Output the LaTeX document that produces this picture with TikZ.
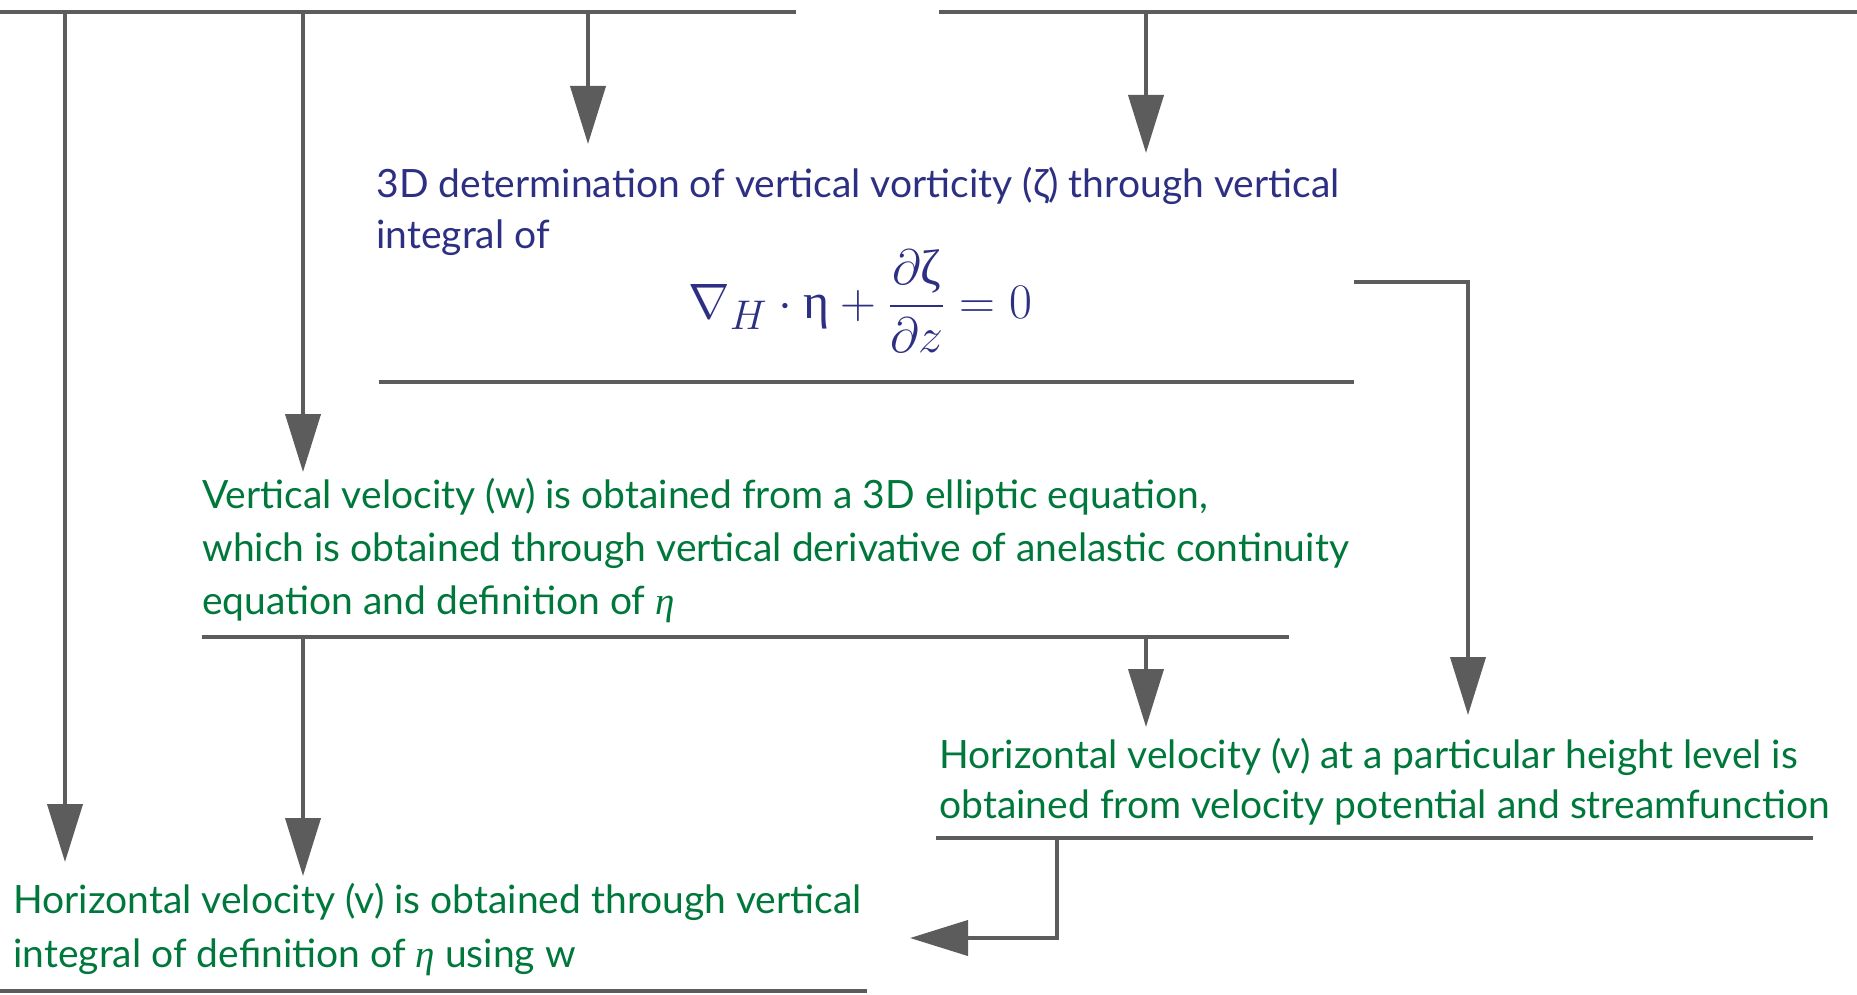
\documentclass[tikz,border=0pt]{standalone}
\usepackage{amsmath}
\usepackage[no-math]{fontspec}
\setmainfont{Lato}
\newfontfamily\greekserif{Liberation Serif}
\usetikzlibrary{arrows.meta}

\definecolor{navyink}{RGB}{45,48,130}
\definecolor{greenink}{RGB}{0,120,60}
\definecolor{wiregray}{RGB}{92,92,92}

\tikzset{
  bar/.style={line width=2pt, wiregray},
  flow/.style={line width=2pt, wiregray, -{Triangle[length=29pt,width=17.5pt]}},
  note/.style={inner sep=0pt, anchor=base west, align=left, font={\fontsize{19.5}{25}\selectfont}},
}

\begin{document}
\begin{tikzpicture}[x=0.5pt, y=-0.5pt]
  \useasboundingbox (0,0) rectangle (1857,995);

  % Vorticity step (base = last line)
  \node[note, text=navyink] (vort) at (376,248)
    {3D determination of vertical vorticity (ζ) through vertical\\integral of};
  \node[inner sep=0pt, anchor=base west, text=navyink, font={\fontsize{24.88}{30}\selectfont}] (eq) at (688,318)
    {$\nabla_{H}\cdot\text{\greekserif η}+\dfrac{\partial\text{\greekserif ζ}}{\partial z}=0$};

  % Vertical velocity step
  \node[note, text=greenink, font={\fontsize{19.5}{26.5}\selectfont}] (wvel) at (202,614)
    {Vertical velocity (w) is obtained from a 3D elliptic equation,\\
     which is obtained through vertical derivative of anelastic continuity\\
     equation and definition of {\greekserif\itshape η}};

  % Horizontal velocity at one level
  \node[note, text=greenink] (vlevel) at (939,818)
    {Horizontal velocity (v) at a particular height level is\\
     obtained from velocity potential and streamfunction};

  % Horizontal velocity from integral
  \node[note, text=greenink, font={\fontsize{19.5}{27}\selectfont}] (vint) at (13,967)
    {Horizontal velocity (v) is obtained through vertical\\
     integral of definition of {\greekserif\itshape η} using w};

  % Bars
  \coordinate (tl0) at (0,12);     \coordinate (tl1) at (796,12);
  \coordinate (tr0) at (939,12);   \coordinate (tr1) at (1857,12);
  \coordinate (u1a) at (379,382);  \coordinate (u1b) at (1354,382);
  \coordinate (u2a) at (202,637);  \coordinate (u2b) at (1289,637);
  \coordinate (u3a) at (936,838);  \coordinate (u3b) at (1813,838);
  \coordinate (u4a) at (0,991);    \coordinate (u4b) at (867,991);
  \draw[bar] (tl0) -- (tl1);
  \draw[bar] (tr0) -- (tr1);
  \draw[bar] (u1a) -- (u1b);
  \draw[bar] (u2a) -- (u2b);
  \draw[bar] (u3a) -- (u3b);
  \draw[bar] (u4a) -- (u4b);

  % Arrow ends
  \coordinate (inA) at (65,862);
  \coordinate (inB) at (303,472);
  \coordinate (inC) at (588,144);
  \coordinate (inD) at (1146,153);
  \coordinate (inE) at (303,876);
  \coordinate (inF) at (1146,727);
  \coordinate (inG) at (1468,715);
  \coordinate (inH) at (910,938);
  \coordinate (eqout) at (1354,282);
  \coordinate (u3out) at (1057,838);

  % Arrows
  \draw[flow] (inA |- tl0) -- (inA);
  \draw[flow] (inB |- tl0) -- (inB);
  \draw[flow] (inC |- tl0) -- (inC);
  \draw[flow] (inD |- tr0) -- (inD);
  \draw[flow] (inE |- u2a) -- (inE);
  \draw[flow] (inF |- u2a) -- (inF);
  \draw[flow] (eqout) -| (inG);
  \draw[flow] (u3out) |- (inH);
\end{tikzpicture}
\end{document}
